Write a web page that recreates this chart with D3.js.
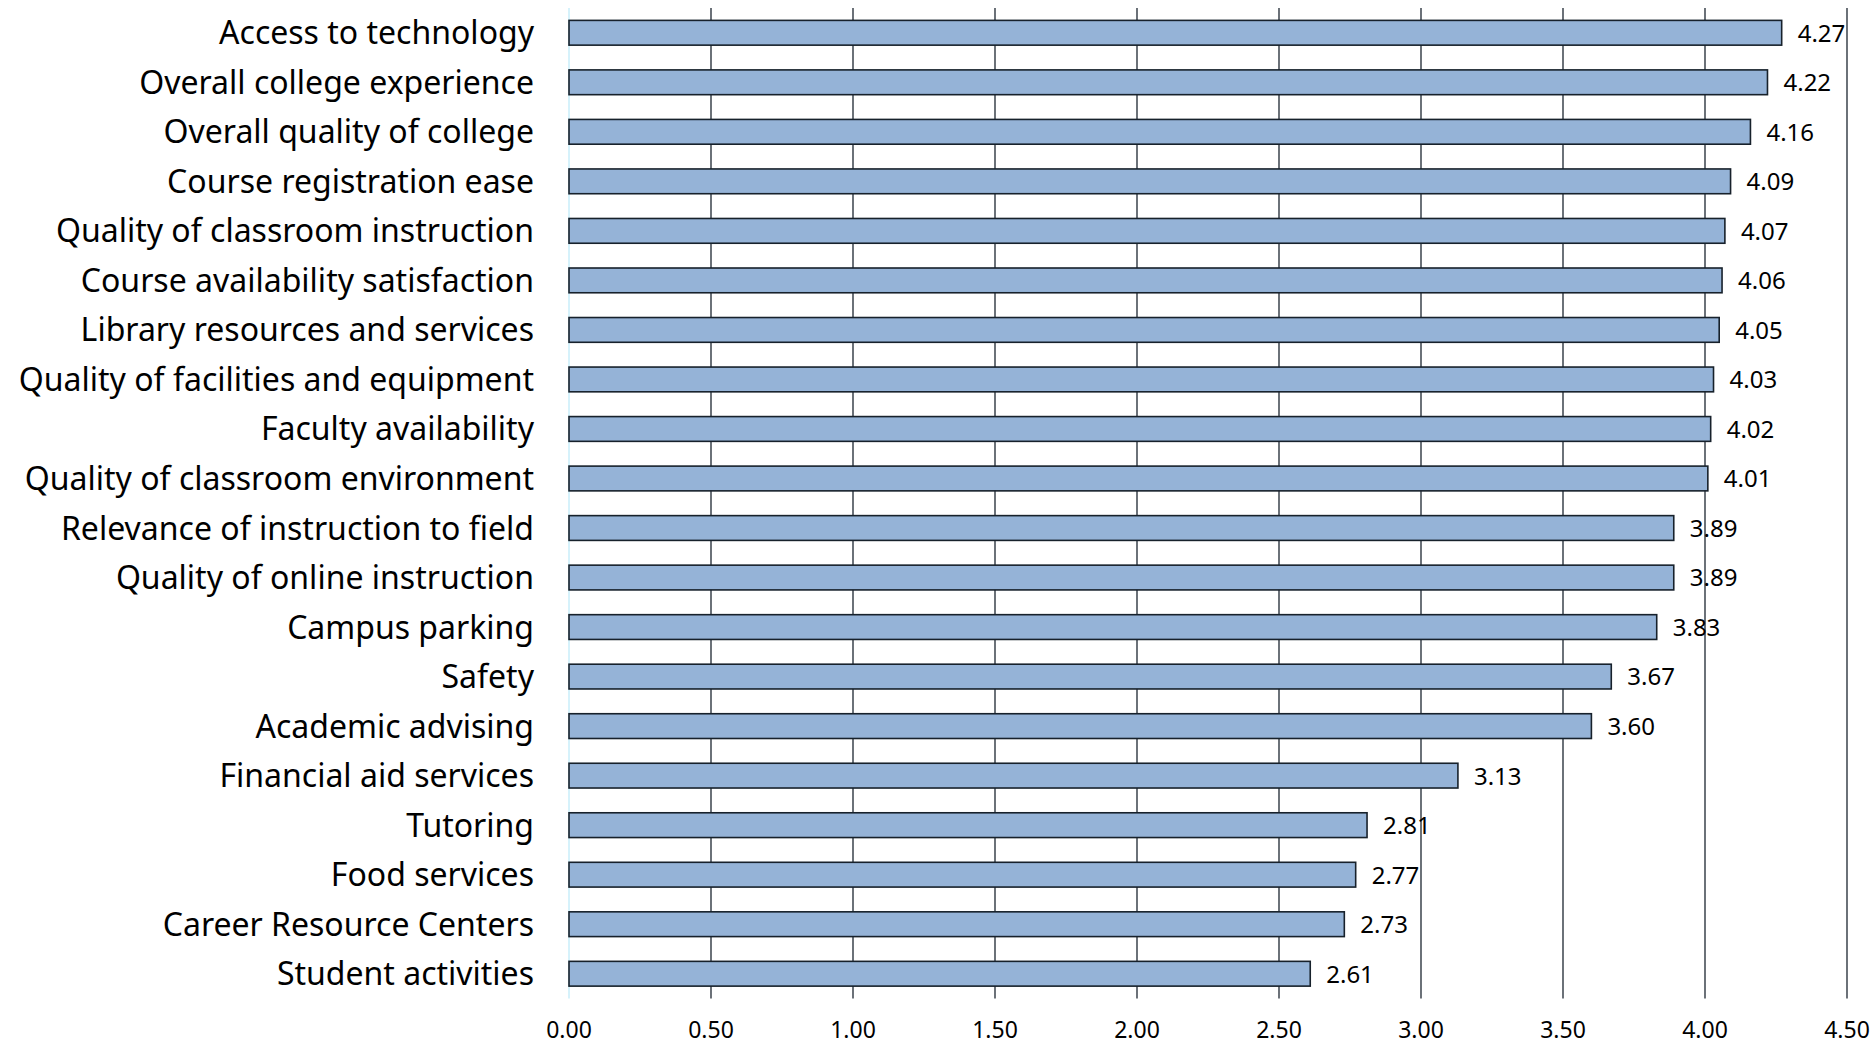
<!DOCTYPE html>
<html>
<head>
<meta charset="utf-8">
<script src="https://cdn.jsdelivr.net/npm/d3@7"></script>
<style>
	html, body { margin: 0; padding: 0; background: #fff; }
	svg { display: block; }
	text { font-family: 'Noto Sans', 'Open Sans', sans-serif; fill: #000; }
</style>
</head>
<body>
<div id="chart"></div>
<script>

// categories, top to bottom
const categories = [
	'Access to technology'
	, 'Overall college experience'
	, 'Overall quality of college'
	, 'Course registration ease'
	, 'Quality of classroom instruction'
	, 'Course availability satisfaction'
	, 'Library resources and services'
	, 'Quality of facilities and equipment'
	, 'Faculty availability'
	, 'Quality of classroom environment'
	, 'Relevance of instruction to field'
	, 'Quality of online instruction'
	, 'Campus parking'
	, 'Safety'
	, 'Academic advising'
	, 'Financial aid services'
	, 'Tutoring'
	, 'Food services'
	, 'Career Resource Centers'
	, 'Student activities'
]

const scores = [4.27, 4.22, 4.16, 4.09, 4.07, 4.06, 4.05, 4.03, 4.02, 4.01,
	3.89, 3.89, 3.83, 3.67, 3.60, 3.13, 2.81, 2.77, 2.73, 2.61]

const tickValues = [0, 0.5, 1, 1.5, 2, 2.5, 3, 3.5, 4, 4.5]

let width = 1874
	, height = 1045
	, margin = { top: 8, right: 27, bottom: 46.5, left: 569 }

const rows = categories.map(function (c, i) { return { name: c, value: scores[i] } })

const svg = d3.select('#chart')
	.append('svg')
	.attr('width', width)
	.attr('height', height)

const x = d3.scaleLinear()
	.domain([0, 4.5])
	.range([margin.left, width - margin.right])

const y = d3.scaleBand()
	.domain(categories)
	.range([margin.top, height - margin.bottom])
	.paddingInner(0.5)
	.paddingOuter(0.25)

// vertical gridlines (behind the bars)
svg.append('g')
	.attr('class', 'grid')
	.selectAll('line')
	.data(tickValues.filter(function (d) { return d > 0 }))
	.join('line')
	.attr('x1', function (d) { return x(d) })
	.attr('x2', function (d) { return x(d) })
	.attr('y1', margin.top)
	.attr('y2', height - margin.bottom)
	.attr('stroke', '#1c2630')
	.attr('stroke-width', 1.3)

// category axis line, light cyan
svg.append('line')
	.attr('x1', x(0))
	.attr('x2', x(0))
	.attr('y1', margin.top)
	.attr('y2', height - margin.bottom)
	.attr('stroke', '#c8eefa')
	.attr('stroke-width', 1.5)

// bars
svg.append('g')
	.selectAll('rect')
	.data(rows)
	.join('rect')
	.attr('x', x(0))
	.attr('y', function (d) { return y(d.name) })
	.attr('width', function (d) { return x(d.value) - x(0) })
	.attr('height', y.bandwidth())
	.attr('fill', '#95b3d7')
	.attr('stroke', '#17212b')
	.attr('stroke-width', 1.6)

// value labels
svg.append('g')
	.selectAll('text')
	.data(rows)
	.join('text')
	.attr('x', function (d) { return x(d.value) + 16 })
	.attr('y', function (d) { return y(d.name) + y.bandwidth() / 2 })
	.attr('dy', '0.37em')
	.style('font-size', '24px')
	.text(function (d) { return d3.format('.2f')(d.value) })

// category labels
svg.append('g')
	.selectAll('text')
	.data(rows)
	.join('text')
	.attr('x', 534)
	.attr('y', function (d) { return y(d.name) + y.bandwidth() / 2 })
	.attr('dy', '0.36em')
	.attr('text-anchor', 'end')
	.style('font-size', '32px')
	.text(function (d) { return d.name })

// x axis tick labels
svg.append('g')
	.selectAll('text')
	.data(tickValues)
	.join('text')
	.attr('x', function (d) { return x(d) })
	.attr('y', 1038)
	.attr('text-anchor', 'middle')
	.style('font-size', '23px')
	.text(function (d) { return d3.format('.2f')(d) })

</script>
</body>
</html>
